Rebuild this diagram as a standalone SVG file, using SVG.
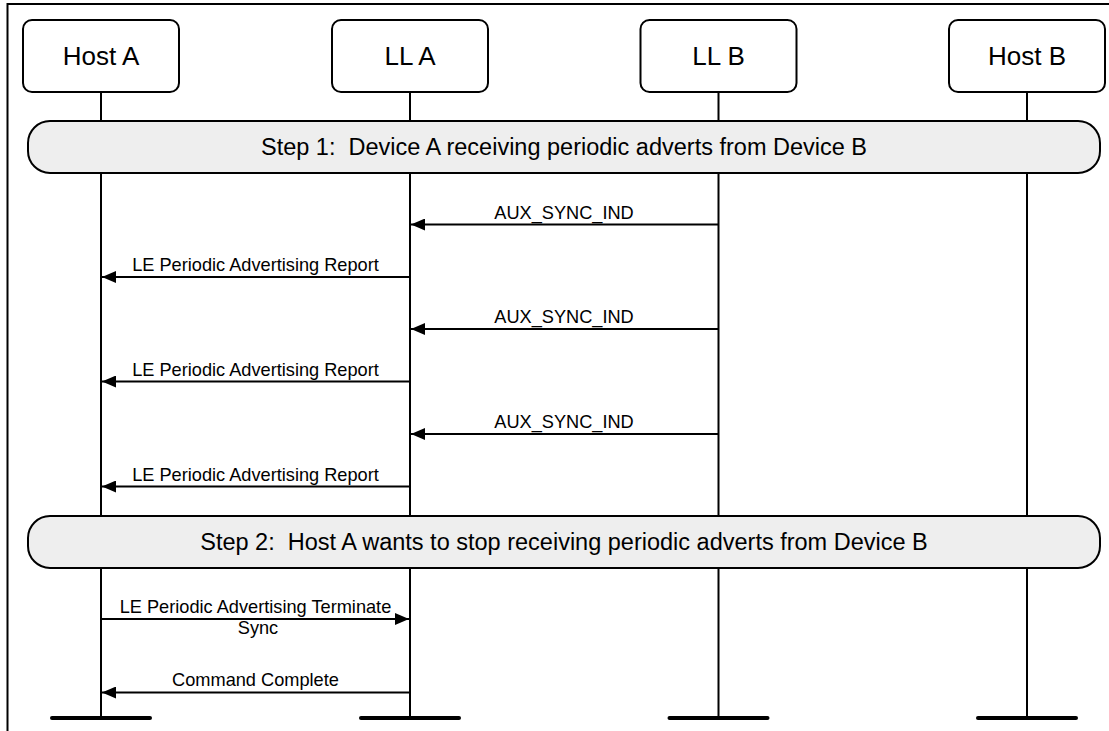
<svg xmlns="http://www.w3.org/2000/svg" width="1109" height="731" viewBox="0 0 1109 731">
<style>
.node{fill:#fff;stroke:#000;stroke-width:2}
.step{fill:#eeeeee;stroke:#000;stroke-width:2}
.life{stroke:#000;stroke-width:2;fill:none}
.bar{stroke:#000;stroke-width:4;stroke-linecap:round}
.msg{stroke:#000;stroke-width:2;fill:none;marker-end:url(#ah)}
.t{font-family:"Liberation Sans",Arial,sans-serif;fill:#000;text-anchor:middle}
.nt{font-size:26px}
.st{font-size:23.5px}
.mt{font-size:18.2px}
</style>
<defs>
<marker id="ah" viewBox="0 0 14 12" refX="14" refY="6" markerWidth="14" markerHeight="12" markerUnits="userSpaceOnUse" orient="auto">
<path d="M0,0 L14,6 L0,12 z" fill="#000"/>
</marker>
</defs>
<rect width="1109" height="731" fill="#fff"/>
<path d="M7.5,731 V4 H1109" fill="none" stroke="#000" stroke-width="2"/>
<g id="lifelines">
<line class="life" x1="101" y1="92" x2="101" y2="718"/>
<line class="life" x1="410" y1="92" x2="410" y2="718"/>
<line class="life" x1="718.5" y1="92" x2="718.5" y2="718"/>
<line class="life" x1="1027" y1="92" x2="1027" y2="718"/>
<line class="bar" x1="52" y1="718" x2="150" y2="718"/>
<line class="bar" x1="361" y1="718" x2="459" y2="718"/>
<line class="bar" x1="669.5" y1="718" x2="767.5" y2="718"/>
<line class="bar" x1="978" y1="718" x2="1076" y2="718"/>
</g>
<g id="hostA"><rect class="node" x="23" y="20" width="156" height="72" rx="9"/><text class="t nt" x="101" y="65">Host A</text></g>
<g id="llA"><rect class="node" x="332" y="20" width="156" height="72" rx="9"/><text class="t nt" x="410" y="65">LL A</text></g>
<g id="llB"><rect class="node" x="640.5" y="20" width="156" height="72" rx="9"/><text class="t nt" x="718.5" y="65">LL B</text></g>
<g id="hostB"><rect class="node" x="949" y="20" width="156" height="72" rx="9"/><text class="t nt" x="1027" y="65">Host B</text></g>
<g id="step1"><rect class="step" x="28" y="121" width="1072" height="52" rx="22"/><text class="t st" x="564" y="155" xml:space="preserve">Step 1:  Device A receiving periodic adverts from Device B</text></g>
<g id="step2"><rect class="step" x="28" y="516" width="1072" height="52" rx="22"/><text class="t st" x="564" y="550" xml:space="preserve">Step 2:  Host A wants to stop receiving periodic adverts from Device B</text></g>
<g id="connectors">
<line class="msg" x1="718.5" y1="224.5" x2="411" y2="224.5"/>
<text class="t mt" x="564" y="218.5">AUX_SYNC_IND</text>
<line class="msg" x1="410" y1="277" x2="102" y2="277"/>
<text class="t mt" x="255.5" y="271">LE Periodic Advertising Report</text>
<line class="msg" x1="718.5" y1="329" x2="411" y2="329"/>
<text class="t mt" x="564" y="323">AUX_SYNC_IND</text>
<line class="msg" x1="410" y1="381.5" x2="102" y2="381.5"/>
<text class="t mt" x="255.5" y="375.5">LE Periodic Advertising Report</text>
<line class="msg" x1="718.5" y1="434" x2="411" y2="434"/>
<text class="t mt" x="564" y="428">AUX_SYNC_IND</text>
<line class="msg" x1="410" y1="486.5" x2="102" y2="486.5"/>
<text class="t mt" x="255.5" y="480.5">LE Periodic Advertising Report</text>
<line class="msg" x1="101" y1="619" x2="409" y2="619"/>
<text class="t mt" x="255.5" y="613">LE Periodic Advertising Terminate</text>
<text class="t mt" x="258" y="634">Sync</text>
<line class="msg" x1="410" y1="692.5" x2="102" y2="692.5"/>
<text class="t mt" x="255.5" y="686">Command Complete</text>
</g>
</svg>
